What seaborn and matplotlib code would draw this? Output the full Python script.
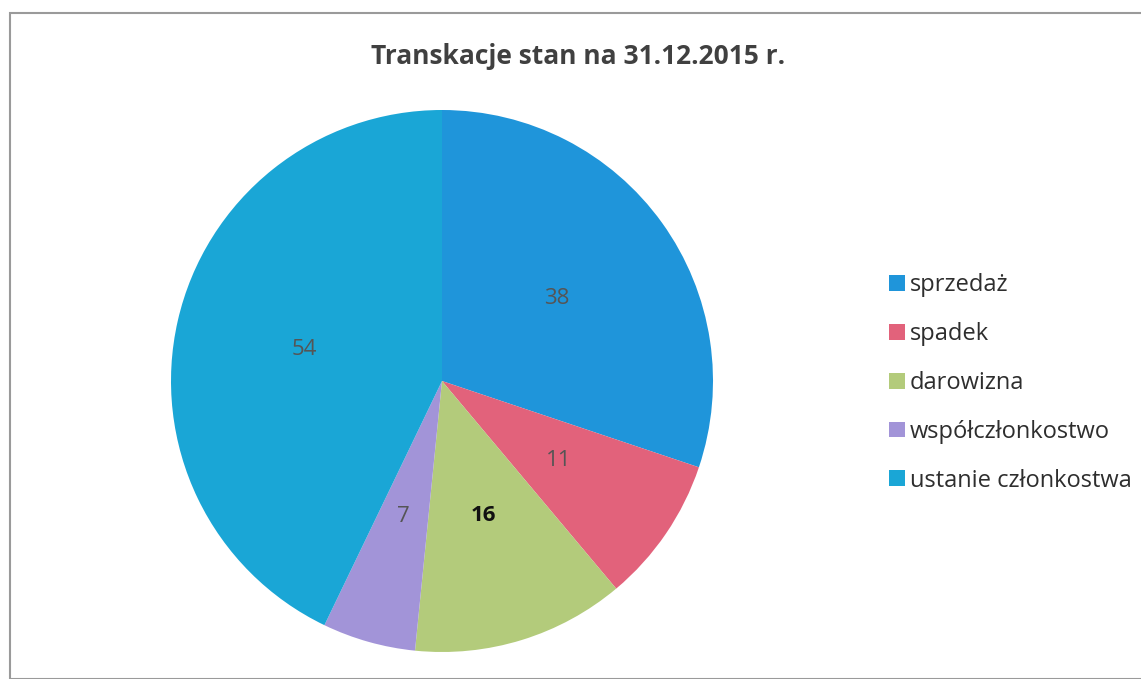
import matplotlib
matplotlib.use("Agg")
import matplotlib.pyplot as plt
import seaborn as sns
from matplotlib.patches import Rectangle, Patch

categories = ["sprzedaż", "spadek", "darowizna", "współczłonkostwo", "ustanie członkostwa"]
values = [38, 11, 16, 7, 54]
colors = ["#1F95DA", "#E2627B", "#B3CB7B", "#A294D8", "#1AA6D6"]
label_colors = ["#555555", "#555555", "#111111", "#555555", "#555555"]
label_weights = ["normal", "normal", "bold", "normal", "normal"]
title = "Transkacje stan na 31.12.2015 r."

sns.set_theme(style="white")
plt.rcParams['font.family'] = ['Open Sans', 'DejaVu Sans']

fig = plt.figure(figsize=(11.41, 6.79), dpi=100)
fig.patch.set_facecolor("white")
fig.add_artist(Rectangle((10/1141, 0.0), 1.0, 1 - 13/679, transform=fig.transFigure,
                         fill=False, edgecolor="#9a9a9a", linewidth=1.5))

ax = fig.add_axes([(442 - 271) / 1141, (679 - 652) / 679, 542 / 1141, 542 / 679])
wedges, texts = ax.pie(values, colors=colors, startangle=90, counterclock=False,
                       labels=[str(v) for v in values], labeldistance=0.52,
                       wedgeprops=dict(linewidth=0))
for t, c, w in zip(texts, label_colors, label_weights):
    t.set_color(c)
    t.set_fontsize(16)
    t.set_fontweight(w)
    t.set_ha("center")
    t.set_va("center")
ax.set_xlim(-1, 1)
ax.set_ylim(-1, 1)
ax.set_aspect("equal")
ax.axis("off")

fig.text(578 / 1141, 1 - 57 / 679, title, ha="center", va="center",
         fontsize=19, fontweight="bold", color="#404040")

handles = [Patch(facecolor=c, edgecolor="none") for c in colors]
leg = fig.legend(handles, categories, loc="upper left",
                 bbox_to_anchor=(880 / 1141, 1 - 264 / 679), frameon=False,
                 fontsize=17, handlelength=0.65, handleheight=0.65, handletextpad=0.2,
                 labelspacing=1.05, borderaxespad=0)
for t in leg.get_texts():
    t.set_color("#2e2e2e")

fig.savefig("out.png", dpi=100, facecolor="white")
